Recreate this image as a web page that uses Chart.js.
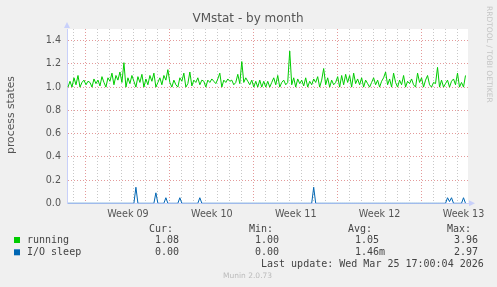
<!DOCTYPE html>
<html>
<head>
<meta charset="utf-8">
<script src="https://cdn.jsdelivr.net/npm/chart.js@4"></script>
<style>
  html, body { margin: 0; padding: 0; background: #F0F0F0; }
  #wrap { width: 497px; height: 287px; }
</style>
</head>
<body>
<div id="wrap"><canvas id="vmstatChart" width="497" height="287"></canvas></div>
<script>
// samples every 4 hours, hours counted from Monday of week 09
var firstSampleHour = -36;
var sampleStepHours = 4;

var running = [
  1.00,1.05,1.00,1.08,1.02,1.10,1.00,1.04,1.06,1.02,
  1.05,1.04,1.00,1.07,1.03,1.06,1.01,1.09,1.04,1.00,
  1.08,1.05,1.12,1.02,1.10,1.06,1.13,1.04,1.21,1.00,
  1.08,1.03,1.10,1.05,1.00,1.09,1.04,1.11,1.00,1.07,
  1.02,1.10,1.05,1.12,1.00,1.04,1.08,1.02,1.10,1.06,
  1.15,1.04,1.00,1.06,1.02,1.00,1.08,1.05,1.12,1.00,
  1.03,1.13,1.01,1.06,1.04,1.08,1.02,1.06,1.05,1.00,
  1.06,1.04,1.07,1.05,1.03,1.07,1.12,1.00,1.06,1.04,
  1.07,1.05,1.06,1.02,1.04,1.11,1.03,1.22,1.04,1.08,
  1.05,1.02,1.06,1.00,1.05,1.00,1.06,1.00,1.05,1.00,
  1.05,1.00,1.04,1.08,1.02,1.10,1.00,1.04,1.06,1.02,
  1.04,1.31,1.02,1.08,1.00,1.07,1.03,1.06,1.01,1.08,
  1.00,1.05,1.02,1.07,1.04,1.09,1.00,1.06,1.16,1.02,
  1.08,1.00,1.06,1.02,1.04,1.09,1.00,1.10,1.02,1.11,
  1.04,1.10,1.00,1.12,1.03,1.07,1.02,1.08,1.00,1.06,
  1.03,1.00,1.04,1.08,1.02,1.06,1.00,1.05,1.08,1.13,
  1.02,1.07,1.00,1.12,1.04,1.00,1.06,1.02,1.10,1.00,
  1.05,1.03,1.07,1.02,1.00,1.12,1.04,1.08,1.00,1.06,
  1.10,1.02,1.00,1.04,1.03,1.17,1.00,1.06,1.00,1.03,
  1.06,1.00,1.05,1.07,1.02,1.12,1.00,1.04,1.00,1.10
];

var ioSleep = [
  0,0,0,0,0,0,0,0,0,0,
  0,0,0,0,0,0,0,0,0,0,
  0,0,0,0,0,0,0,0,0,0,
  0,0,0,0,0.138,0,0,0,0,0,
  0,0,0,0,0.09,0,0,0,0,0.048,
  0,0,0,0,0,0,0.048,0,0,0,
  0,0,0,0,0,0,0.048,0,0,0,
  0,0,0,0,0,0,0,0,0,0,
  0,0,0,0,0,0,0,0,0,0,
  0,0,0,0,0,0,0,0,0,0,
  0,0,0,0,0,0,0,0,0,0,
  0,0,0,0,0,0,0,0,0,0,
  0,0,0,0.138,0,0,0,0,0,0,
  0,0,0,0,0,0,0,0,0,0,
  0,0,0,0,0,0,0,0,0,0,
  0,0,0,0,0,0,0,0,0,0,
  0,0,0,0,0,0,0,0,0,0,
  0,0,0,0,0,0,0,0,0,0,
  0,0,0,0,0,0,0,0,0,0,
  0.048,0.015,0.048,0,0,0,0,0,0.048,0
];

var weekLabels = ["Week 09", "Week 10", "Week 11", "Week 12", "Week 13"];
var weekLabelHours = [84, 252, 420, 588, 756];

var legendNames = ["running", "I/O sleep"];
var legendColors = ["#00CC00", "#0066B3"];
var legendCur = ["1.08", "0.00"];
var legendMin = ["1.00", "0.00"];
var legendAvg = ["1.05", "1.46m"];
var legendMax = ["3.96", "2.97"];

function toPoints(values) {
  var pts = [];
  for (var i = 0; i < values.length; i++) {
    pts.push({ x: firstSampleHour + i * sampleStepHours, y: values[i] });
  }
  return pts;
}

var muninDecor = {
  id: "muninDecor",
  afterDraw: function (chart) {
    var ctx = chart.ctx;
    var area = chart.chartArea;
    ctx.save();

    // title
    ctx.fillStyle = "#555";
    ctx.font = "12px 'DejaVu Sans'";
    ctx.textAlign = "center";
    ctx.textBaseline = "middle";
    ctx.fillText("VMstat - by month", 248, 19);

    // y axis title
    ctx.save();
    ctx.translate(11, 115);
    ctx.rotate(-Math.PI / 2);
    ctx.font = "10.8px 'DejaVu Sans'";
    ctx.fillText("process states", 0, 0);
    ctx.restore();

    // rrdtool side text
    ctx.save();
    ctx.translate(489, 6);
    ctx.rotate(Math.PI / 2);
    ctx.textAlign = "left";
    ctx.fillStyle = "#c4c4c4";
    ctx.font = "7.5px 'DejaVu Sans'";
    ctx.fillText("RRDTOOL / TOBI OETIKER", 0, 0);
    ctx.restore();

    // axis arrows
    ctx.fillStyle = "#c8d0fa";
    ctx.beginPath();
    ctx.moveTo(area.left - 3, area.top - 1);
    ctx.lineTo(area.left + 3, area.top - 1);
    ctx.lineTo(area.left, area.top - 7);
    ctx.closePath();
    ctx.fill();
    ctx.beginPath();
    ctx.moveTo(area.right + 1, area.bottom - 3);
    ctx.lineTo(area.right + 1, area.bottom + 3);
    ctx.lineTo(area.right + 7, area.bottom);
    ctx.closePath();
    ctx.fill();

    // legend
    ctx.font = "10px 'DejaVu Sans Mono'";
    ctx.textAlign = "left";
    ctx.fillStyle = "#444";
    ctx.fillText("Cur:", 149, 229);
    ctx.fillText("Min:", 249, 229);
    ctx.fillText("Avg:", 348, 229);
    ctx.fillText("Max:", 447, 229);
    for (var i = 0; i < legendNames.length; i++) {
      var y = 240 + i * 12.3;
      ctx.fillStyle = legendColors[i];
      ctx.fillRect(14, y - 3, 6, 6);
      ctx.fillStyle = "#444";
      ctx.fillText(legendNames[i], 27, y);
      ctx.fillText(legendCur[i], 155, y);
      ctx.fillText(legendMin[i], 255, y);
      ctx.fillText(legendAvg[i], 355, y);
      ctx.fillText(legendMax[i], 454, y);
    }
    ctx.fillText("Last update: Wed Mar 25 17:00:04 2026", 261, 264.5);

    ctx.fillStyle = "#bbb";
    ctx.font = "7.5px 'DejaVu Sans'";
    ctx.fillText("Munin 2.0.73", 223, 276.5);
    ctx.restore();
  }
};

new Chart("vmstatChart", {
  type: "line",
  data: {
    datasets: [{
      label: "running",
      data: toPoints(running),
      borderColor: "#00CC00",
      borderWidth: 1,
      pointRadius: 0,
      fill: false
    }, {
      label: "I/O sleep",
      data: toPoints(ioSleep),
      borderColor: "#0066B3",
      borderWidth: 1,
      pointRadius: 0,
      fill: false
    }]
  },
  options: {
    responsive: false,
    animation: false,
    layout: { padding: { top: 29, right: 29, left: 0, bottom: 0 } },
    plugins: {
      legend: { display: false },
      title: { display: false },
      tooltip: { enabled: false }
    },
    scales: {
      x: {
        type: "linear",
        min: -38,
        max: 765,
        afterFit: function (scale) { scale.height = 83.7; },
        afterBuildTicks: function (scale) {
          var t = [];
          for (var h = -36; h <= 756; h += 12) t.push({ value: h });
          scale.ticks = t;
        },
        border: { color: "#c8d0fa", width: 1, dash: [1, 2] },
        grid: {
          drawTicks: false,
          lineWidth: 1,
          color: function (c) {
            var v = c.tick ? c.tick.value : 0;
            if (v % 168 === 0) return "#e49a9a";
            if (v % 24 === 0) return "#c8c8c8";
            return "rgba(0,0,0,0)";
          }
        },
        ticks: {
          autoSkip: false,
          maxRotation: 0,
          padding: 5,
          color: "#555",
          font: { family: "DejaVu Sans", size: 9.6 },
          callback: function (v) {
            var k = weekLabelHours.indexOf(v);
            return k >= 0 ? weekLabels[k] : "";
          }
        }
      },
      y: {
        min: 0,
        max: 1.5,
        afterFit: function (scale) { scale.width = 67; },
        afterBuildTicks: function (scale) {
          var t = [];
          for (var k = 0; k <= 15; k++) t.push({ value: k / 10 });
          scale.ticks = t;
        },
        border: { color: "#c8d0fa", width: 1, dash: [1, 2] },
        grid: {
          drawTicks: false,
          color: function (c) {
            var k = Math.round((c.tick ? c.tick.value : 0) * 10);
            if (k === 0) return "rgba(0,0,0,0)";
            if (k % 2 === 0) return "#e49a9a";
            return "#c8c8c8";
          }
        },
        ticks: {
          padding: 6,
          color: "#555",
          font: { family: "DejaVu Sans", size: 9.6 },
          callback: function (v) {
            var k = Math.round(v * 10);
            return k % 2 === 0 ? (k / 10).toFixed(1) : "";
          }
        }
      }
    }
  },
  plugins: [muninDecor, {
    id: "whitePlot",
    beforeDraw: function (chart) {
      var a = chart.chartArea;
      chart.ctx.save();
      chart.ctx.fillStyle = "#F0F0F0";
      chart.ctx.fillRect(0, 0, chart.width, chart.height);
      chart.ctx.fillStyle = "#fff";
      chart.ctx.fillRect(a.left, a.top, a.right - a.left, a.bottom - a.top);
      chart.ctx.restore();
    }
  }]
});
</script>
</body>
</html>
